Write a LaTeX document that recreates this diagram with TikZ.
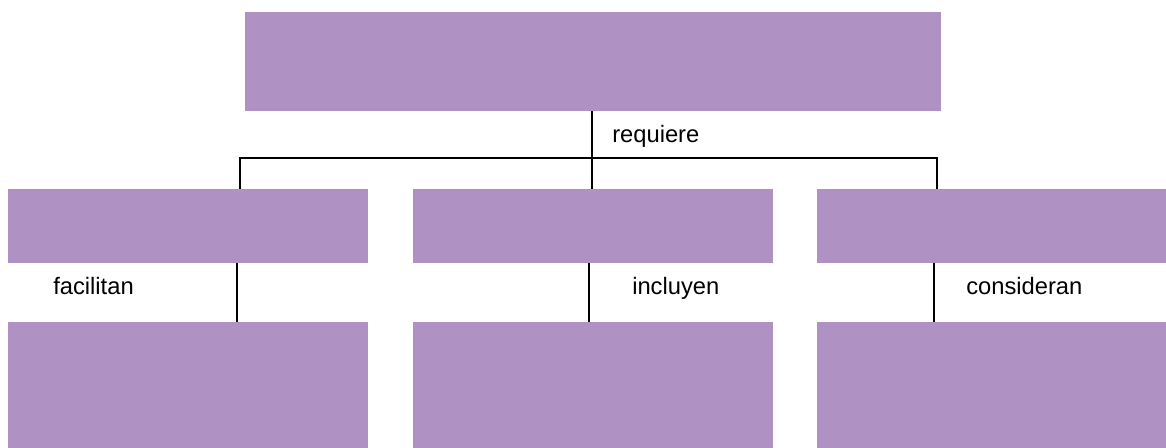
\documentclass[tikz,border=0pt]{standalone}
\usepackage{fontspec}
\setmainfont{Liberation Sans}
\usetikzlibrary{positioning}
\definecolor{boxpurple}{RGB}{176,145,195}

\begin{document}
\begin{tikzpicture}[
        x=0.75pt, y=-0.75pt,
        box/.style={
            rectangle,
            fill=boxpurple,
            inner sep=0pt,
            minimum width=270pt
        },
        link/.style={
            line width=1.5pt,
            black
        },
        tag/.style={
            anchor=base west,
            inner sep=0pt,
            font=\fontsize{17.8}{20}\selectfont
        }
    ]
    \useasboundingbox (0,0) rectangle (1166,447);
    \clip (0,0) rectangle (1166,447);

    % Top box
    \node[box, anchor=north west, minimum width=522pt, minimum height=74pt] (top) at (245,12) {};

    % Second row
    \node[box, anchor=north west, minimum height=55pt] (lefta) at (8,189) {};
    \node[box, minimum height=55pt, right=33pt of lefta] (mida) {};
    \node[box, minimum height=55pt, right=33pt of mida] (righta) {};

    % Third row
    \node[box, minimum height=98pt, below=44pt of lefta] (leftb) {};
    \node[box, minimum height=98pt, below=44pt of mida] (midb) {};
    \node[box, minimum height=98pt, below=44pt of righta] (rightb) {};

    % Branch points
    \coordinate (bl) at (240,158);
    \coordinate (bm) at (592,158);
    \coordinate (br) at (937,158);
    \coordinate (fl) at (237,0);
    \coordinate (fm) at (589,0);
    \coordinate (fr) at (934,0);

    % Connectors
    \draw[link] (top.south -| bm) -- (bm);
    \draw[link] (bl |- lefta.north) -- (bl) -- (br) -- (br |- righta.north);
    \draw[link] (bm) -- (bm |- mida.north);
    \draw[link] (lefta.south -| fl) -- (leftb.north -| fl);
    \draw[link] (mida.south -| fm) -- (midb.north -| fm);
    \draw[link] (righta.south -| fr) -- (rightb.north -| fr);

    % Labels
    \node[tag] (lreq) at (612,142) {requiere};
    \node[tag] (lfac) at (53,294) {facilitan};
    \node[tag] (linc) at (632,294) {incluyen};
    \node[tag] (lcon) at (966,294) {consideran};

\end{tikzpicture}
\end{document}
